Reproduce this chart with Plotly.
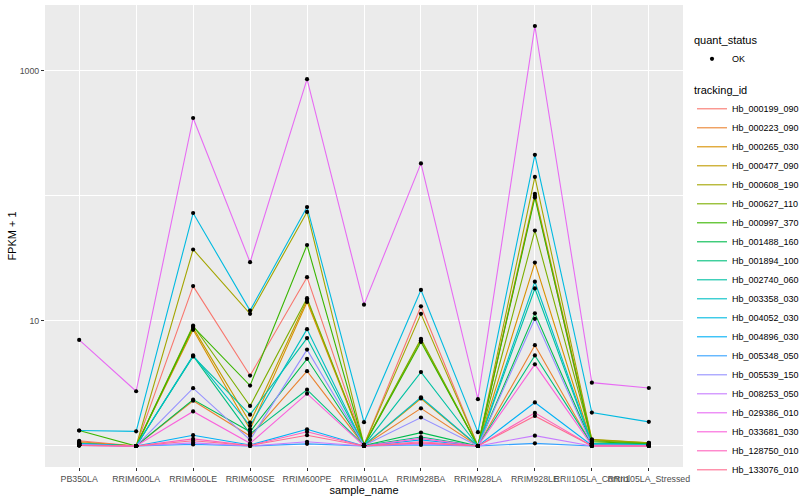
import plotly.graph_objects as go

samples = ["PB350LA", "RRIM600LA", "RRIM600LE", "RRIM600SE", "RRIM600PE", "RRIM901LA",
           "RRIM928BA", "RRIM928LA", "RRIM928LE", "RRII105LA_Control", "RRII105LA_Stressed"]

tracking_ids = ["Hb_000199_090", "Hb_000223_090", "Hb_000265_030", "Hb_000477_090", "Hb_000608_190",
                "Hb_000627_110", "Hb_000997_370", "Hb_001488_160", "Hb_001894_100", "Hb_002740_060",
                "Hb_003358_030", "Hb_004052_030", "Hb_004896_030", "Hb_005348_050", "Hb_005539_150",
                "Hb_008253_050", "Hb_029386_010", "Hb_033681_030", "Hb_128750_010", "Hb_133076_010"]

colors = ["#F8766D", "#EA8331", "#D89000", "#C09B00", "#A3A500", "#7CAE00", "#39B600", "#00BB4E",
          "#00BF7D", "#00C1A3", "#00BFC4", "#00BAE0", "#00B0F6", "#35A2FF", "#9590FF", "#C77CFF",
          "#E76BF3", "#FA62DB", "#FF62BC", "#FF6C91"]

# FPKM + 1 per tracking_id, in the order of `samples`
fpkm_plus_1 = [
    [1.10, 1.00, 19.0, 3.66, 22.4, 1.02, 13.1, 1.00, 100.0, 1.04, 1.03],
    [1.08, 1.00, 2.30, 1.20, 3.97, 1.01, 2.00, 1.00, 6.40, 1.02, 1.02],
    [1.06, 1.00, 8.50, 1.36, 14.2, 1.01, 2.40, 1.00, 29.3, 1.05, 1.03],
    [1.05, 1.00, 8.80, 1.54, 14.8, 1.02, 7.00, 1.00, 104.0, 1.12, 1.06],
    [1.05, 1.00, 37.3, 11.4, 74.5, 1.02, 11.4, 1.00, 142.0, 1.13, 1.06],
    [1.04, 1.00, 9.20, 2.09, 15.2, 1.02, 7.20, 1.00, 52.8, 1.10, 1.05],
    [1.33, 1.00, 9.00, 3.04, 40.5, 1.01, 6.80, 1.00, 97.0, 1.08, 1.04],
    [1.04, 1.00, 2.35, 1.30, 4.98, 1.01, 1.28, 1.00, 11.5, 1.05, 1.03],
    [1.03, 1.00, 5.24, 1.25, 2.82, 1.01, 1.18, 1.00, 5.30, 1.03, 1.02],
    [1.03, 1.00, 5.20, 1.78, 7.30, 1.01, 3.90, 1.00, 18.2, 1.04, 1.02],
    [1.05, 1.00, 5.30, 1.45, 8.60, 1.01, 2.45, 1.00, 20.6, 1.05, 1.02],
    [1.33, 1.31, 73.0, 12.1, 81.5, 1.55, 17.7, 1.29, 213.0, 1.85, 1.56],
    [1.02, 1.00, 1.22, 1.02, 1.36, 1.00, 1.12, 1.00, 2.23, 1.01, 1.01],
    [1.01, 1.00, 1.03, 1.00, 1.04, 1.00, 1.02, 1.00, 1.05, 1.00, 1.00],
    [1.02, 1.00, 2.90, 1.12, 5.90, 1.01, 1.69, 1.00, 10.4, 1.02, 1.01],
    [1.02, 1.00, 1.06, 1.00, 1.08, 1.00, 1.04, 1.00, 1.21, 1.00, 1.00],
    [7.05, 2.74, 420.0, 29.5, 859.0, 13.5, 182.0, 2.37, 2285.0, 3.21, 2.91],
    [1.01, 1.00, 1.89, 1.05, 2.62, 1.00, 1.15, 1.00, 4.50, 1.01, 1.00],
    [1.01, 1.00, 1.14, 1.01, 1.30, 1.00, 1.08, 1.00, 1.84, 1.00, 1.00],
    [1.01, 1.00, 1.10, 1.01, 1.22, 1.00, 1.06, 1.00, 1.74, 1.00, 1.00],
]

quant_status = "OK"
font_family = "Liberation Sans, Arial, sans-serif"

fig = go.Figure()

for tid, col, vals in zip(tracking_ids, colors, fpkm_plus_1):
    fig.add_trace(go.Scatter(
        x=samples, y=vals, mode="lines", name=tid,
        line=dict(color=col, width=1.1),
        legend="legend2", showlegend=True,
    ))

all_x = [s for vals in fpkm_plus_1 for s in samples]
all_y = [v for vals in fpkm_plus_1 for v in vals]
fig.add_trace(go.Scatter(
    x=all_x, y=all_y, mode="markers", name=quant_status,
    marker=dict(color="black", size=4.2),
    legend="legend", showlegend=True,
))

fig.update_layout(
    width=800, height=500,
    margin=dict(l=45, r=117, t=5, b=33, autoexpand=False),
    paper_bgcolor="white",
    plot_bgcolor="#EBEBEB",
    font=dict(family=font_family, color="#000000", size=11),
    xaxis=dict(
        type="category", categoryorder="array", categoryarray=samples,
        range=[-0.6, len(samples) - 0.4],
        showgrid=True, gridcolor="white", gridwidth=1.1,
        zeroline=False, showline=False, automargin=False,
        ticks="outside", ticklen=3, tickcolor="#333333", tickwidth=1,
        tickangle=0,
        tickfont=dict(size=8.8, color="#4D4D4D"),
        title=dict(text="sample_name", font=dict(size=11), standoff=0),
    ),
    yaxis=dict(
        type="log", range=[-0.168, 3.527],
        tickvals=[10, 1000], ticktext=["10", "1000"],
        showgrid=True, gridcolor="white", gridwidth=1.1,
        minor=dict(tickmode="array", tickvals=[1, 100], showgrid=True,
                   gridcolor="white", gridwidth=0.5, ticklen=0),
        zeroline=False, showline=False, automargin=False,
        ticks="outside", ticklen=3, tickcolor="#333333", tickwidth=1,
        tickfont=dict(size=8.8, color="#4D4D4D"),
        title=dict(text="FPKM + 1", font=dict(size=11), standoff=0),
    ),
    legend=dict(
        title=dict(text="quant_status", font=dict(size=11)),
        xref="container", yref="container",
        x=0.865, y=0.94, xanchor="left", yanchor="top",
        font=dict(size=9), bgcolor="rgba(0,0,0,0)",
        itemwidth=30,
    ),
    legend2=dict(
        title=dict(text="tracking_id", font=dict(size=11)),
        xref="container", yref="container",
        x=0.865, y=0.84, xanchor="left", yanchor="top",
        font=dict(size=9), bgcolor="rgba(0,0,0,0)",
        tracegroupgap=0, itemwidth=30, maxheight=440,
    ),
)

fig.write_html("out.html", config={"displayModeBar": False},
               post_script="document.body.style.margin='0';")
